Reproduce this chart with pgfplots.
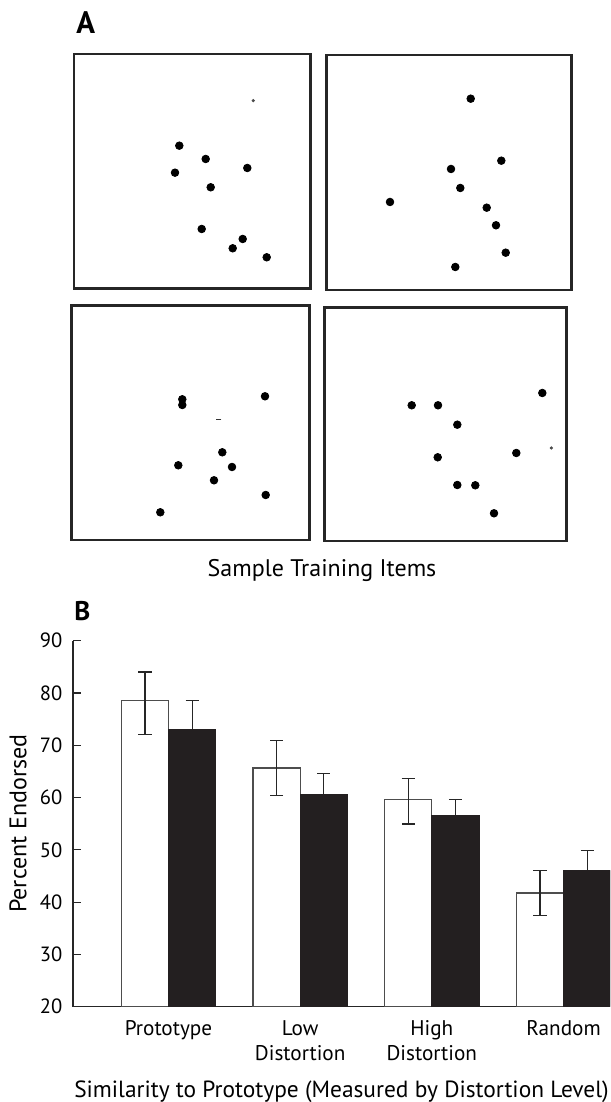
\documentclass[border=0pt]{standalone}
\usepackage{fontspec}
\setmainfont{PT Sans}
\usepackage{pgfplots}
\pgfplotsset{compat=1.18}
\definecolor{barblack}{HTML}{231F20}
\definecolor{edgegray}{HTML}{4D4D4D}
\begin{document}
\begin{tikzpicture}[x=0.5pt,y=0.5pt]
\useasboundingbox (0,0) rectangle (610,1102);
\pgfplotsset{dotbox/.style={disabledatascaling, x=0.5pt, y=0.5pt, anchor=south west,
  xtick=\empty, ytick=\empty,
  axis line style={line width=1.3pt, black!85}, clip=false},
  dots/.style={only marks, mark=*, mark size=1.9pt, black, mark options={fill=black}},
  smalldot/.style={only marks, mark=*, mark size=0.6pt, black!70, mark options={fill=black!70}}}
% ---------- Panel A ----------
\node[anchor=base west, inner sep=0pt, font=\fontsize{15.5}{18}\selectfont\bfseries] at (76,1068.7) {A};
% Box 1
\begin{axis}[dotbox, at={(37pt,406.85pt)}, xmin=74, xmax=310.7, ymin=813.7, ymax=1048]
\addplot[dots] coordinates {(179.3,956.3) (205.7,943) (247.3,934) (175,929.3)
  (210.7,914.7) (201.7,873) (242.7,863) (232.7,853.7) (266.7,844.7)};
\addplot[smalldot] coordinates {(253.3,1001.3)};
\end{axis}
% Box 2
\begin{axis}[dotbox, at={(163.35pt,406pt)}, xmin=326.7, xmax=571.7, ymin=812, ymax=1047]
\addplot[dots] coordinates {(470.7,1003.3) (501.3,941.3) (451,933) (460.3,914)
  (390,900) (486.7,894.3) (496,876.7) (505.7,849.3) (455.3,835)};
\end{axis}
% Box 3
\begin{axis}[dotbox, at={(35.85pt,281pt)}, xmin=71.7, xmax=309.3, ymin=562, ymax=796.3]
\addplot[dots] coordinates {(265,705.7) (182.3,702.7) (182.3,697) (222.3,649.7)
  (178.3,636.7) (232,635) (214,621.7) (265.7,607) (160.3,589.7)};
\addplot[only marks, mark=-, mark size=1.3pt, black!80, mark options={line width=0.7pt}] coordinates {(218.7,682.7)};
\end{axis}
% Box 4
\begin{axis}[dotbox, at={(162.15pt,280.5pt)}, xmin=324.3, xmax=566.7, ymin=561, ymax=794.3]
\addplot[dots] coordinates {(542.3,709) (411.7,696.7) (438,696.7) (457.3,677.3)
  (516.3,649) (437.7,644.7) (457.3,617) (475.3,616.7) (494,588.7)};
\addplot[smalldot] coordinates {(551.3,654)};
\end{axis}
\node[anchor=base, inner sep=0pt, font=\fontsize{12}{14}\selectfont] at (322,525.3) {Sample Training Items};
% ---------- Panel B ----------
\node[anchor=base west, inner sep=0pt, font=\fontsize{13.5}{16}\selectfont\bfseries] at (74,481.3) {B};
\begin{axis}[disabledatascaling, x=0.5pt, y=2.6143pt, anchor=south west, at={(36.5pt,47.65pt)},
  xmin=73, xmax=610, ymin=20, ymax=90,
  axis x line*=bottom, axis y line*=left,
  axis line style={line width=0.6pt, black!85},
  ytick={20,30,...,90}, ytick align=inside, major tick length=4pt,
  ytick style={line width=0.6pt, black!85},
  xtick={168.5,300.2,431.8,563.5}, xtick style={draw=none},
  xticklabels={Prototype, Low\\Distortion, High\\Distortion, Random},
  xticklabel style={align=center, anchor=north, yshift=-3.6pt, font=\fontsize{10.6}{12.15}\selectfont},
  yticklabel style={xshift=-1.8pt, font=\fontsize{10.3}{12}\selectfont},
  /pgf/number format/assume math mode=true,
  xlabel={Similarity to Prototype (Measured by Distortion Level)},
  xlabel style={at={(axis description cs:0.5,0)}, anchor=base, yshift=-45.3pt, font=\fontsize{11.7}{14}\selectfont},
  ylabel={Percent Endorsed},
  ylabel style={at={(axis description cs:-0.1024,0.5)}, anchor=center, font=\fontsize{12}{14}\selectfont},
  clip=true]
\addplot[ybar, bar width=47.2, bar shift=0pt, fill=white, draw=edgegray, line width=0.6pt,
  error bars/.cd, y dir=both, y explicit,
  error bar style={black!85, line width=0.6pt},
  error mark options={rotate=90, black!85, mark size=3.3pt, line width=0.6pt}]
  coordinates {(144.9,78.5) += (0,5.5) -= (0,6.4)
               (276.6,65.65) += (0,5.3) -= (0,5.3)
               (408.2,59.66) += (0,3.94) -= (0,4.72)
               (539.9,41.74) += (0,4.26) -= (0,4.24)};
\addplot[ybar, bar width=47.2, bar shift=0pt, fill=barblack, draw=barblack, line width=0.6pt,
  error bars/.cd, y dir=plus, y explicit,
  error bar style={black!85, line width=0.6pt},
  error mark options={rotate=90, black!85, mark size=3.3pt, line width=0.6pt}]
  coordinates {(192.1,73.05) += (0,5.45)
               (323.8,60.6) += (0,3.96)
               (455.4,56.6) += (0,3.1)
               (587.1,46.08) += (0,3.82)};
\end{axis}
\end{tikzpicture}
\end{document}
